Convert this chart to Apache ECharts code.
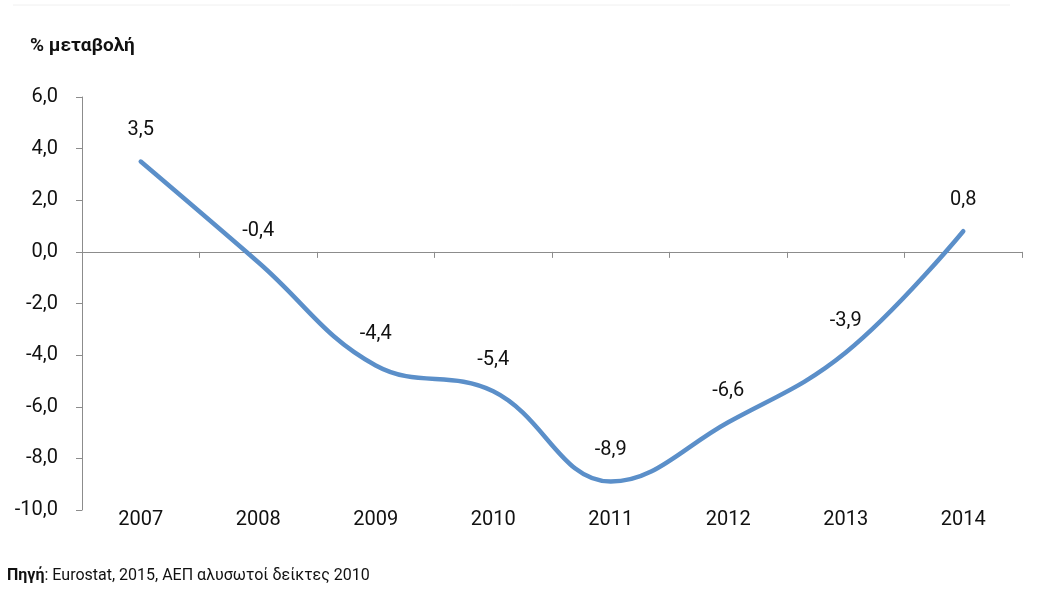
<!DOCTYPE html>
<html>
<head>
<meta charset="utf-8">
<script src="https://cdn.jsdelivr.net/npm/echarts@6/dist/echarts.min.js"></script>
<style>
  html, body { margin: 0; padding: 0; background: #fff; }
  #chart { width: 1044px; height: 606px; }
</style>
</head>
<body>
<div id="chart"></div>
<script>
// Annual % change, 2007–2014
const years = ['2007', '2008', '2009', '2010', '2011', '2012', '2013', '2014'];
const changePct = [3.5, -0.4, -4.4, -5.4, -8.9, -6.6, -3.9, 0.8];
const yTicks = { min: -10, max: 6, step: 2 };

const FONT = 'Roboto, "DejaVu Sans Condensed", "Liberation Sans", sans-serif';
const fmt = v => Number(v).toFixed(1).replace('.', ',');

const chart = echarts.init(document.getElementById('chart'), null, { renderer: 'canvas' });

chart.setOption({
  animation: false,
  backgroundColor: '#ffffff',
  textStyle: { fontFamily: FONT },
  graphic: [
    {
      type: 'line',
      shape: { x1: 13, y1: 5, x2: 1010, y2: 5 },
      style: { stroke: '#f0f0f0', lineWidth: 1 }
    },
    {
      type: 'text',
      left: 30, top: 37,
      style: {
        text: '% μεταβολή',
        font: 'bold 19px ' + FONT,
        fill: '#111'
      }
    },
    {
      type: 'text',
      left: 7, top: 568,
      style: {
        text: '{b|Πηγή}: Eurostat, 2015, ΑΕΠ αλυσωτοί δείκτες 2010',
        font: '16px ' + FONT,
        fill: '#111',
        rich: {
          b: { font: 'bold 16px ' + FONT, fill: '#111' }
        }
      }
    }
  ],
  grid: { left: 82, right: 22, top: 97, bottom: 96, containLabel: false },
  xAxis: [
    {
      // category labels along the bottom
      type: 'category',
      data: years,
      position: 'bottom',
      boundaryGap: true,
      axisLine: { show: false, onZero: false },
      axisTick: { show: false },
      axisLabel: { color: '#111', fontSize: 20, fontFamily: FONT, margin: 0 }
    },
    {
      // zero line with tick marks between categories
      type: 'category',
      data: years,
      position: 'top',
      boundaryGap: true,
      axisLine: { show: true, onZero: true, lineStyle: { color: '#8c8c8c', width: 1 } },
      axisTick: { show: true, inside: true, length: 6, lineStyle: { color: '#8c8c8c' } },
      axisLabel: { show: false }
    }
  ],
  yAxis: {
    type: 'value',
    min: yTicks.min,
    max: yTicks.max,
    interval: yTicks.step,
    splitLine: { show: false },
    axisLine: { show: true, lineStyle: { color: '#8c8c8c', width: 1 } },
    axisTick: { show: true, length: 6, lineStyle: { color: '#8c8c8c' } },
    axisLabel: { color: '#111', fontSize: 20, fontFamily: FONT, margin: 24, formatter: fmt }
  },
  series: [
    {
      type: 'line',
      xAxisIndex: 0,
      data: changePct,
      smooth: 0.4,
      showSymbol: true,
      symbol: 'circle',
      symbolSize: 1,
      itemStyle: { color: 'rgba(0,0,0,0)' },
      lineStyle: { color: '#5b8fc9', width: 4.5, cap: 'round' },
      label: {
        show: true,
        position: 'top',
        distance: 21,
        color: '#111',
        fontSize: 20,
        fontFamily: FONT,
        formatter: p => fmt(p.value)
      }
    }
  ]
});
</script>
</body>
</html>
